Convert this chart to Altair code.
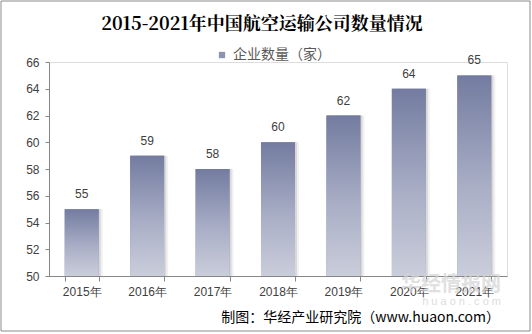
import altair as alt
import pandas as pd

years = ["2015年", "2016年", "2017年", "2018年", "2019年", "2020年", "2021年"]
counts = [55, 59, 58, 60, 62, 64, 65]
series_name = "企业数量（家）"
y_ticks = [50, 52, 54, 56, 58, 60, 62, 64, 66]
title_text = "2015-2021年中国航空运输公司数量情况"
source_text = "制图：华经产业研究院（www.huaon.com）"

df = pd.DataFrame({"year": years, "count": counts, "series": series_name})

x_enc = alt.X("year:N", sort=years, title=None,
              scale=alt.Scale(paddingInner=0.48, paddingOuter=0.24),
              axis=alt.Axis(labelAngle=0, tickBand="extent", labelFontSize=12,
                            labelColor="#404040", labelFont="Liberation Sans",
                            domainColor="#868686", tickColor="#868686", tickSize=5,
                            labelPadding=5))
y_enc = alt.Y("count:Q", title=None,
              scale=alt.Scale(domain=[50, 66], nice=False),
              axis=alt.Axis(values=y_ticks, grid=False, labelFontSize=12,
                            labelColor="#404040", labelFont="Liberation Sans",
                            domainColor="#868686", tickColor="#868686", tickSize=4,
                            labelPadding=6))
y2_enc = alt.Y2(datum=50)

base = alt.Chart(df)

shadow1 = base.mark_bar(color="#999999", opacity=0.28, xOffset=2, y2Offset=0).encode(
    x=x_enc, y=y_enc, y2=y2_enc)
shadow2 = base.mark_bar(color="#999999", opacity=0.14, xOffset=4).encode(
    x=x_enc, y=y_enc, y2=y2_enc)

legend_bar = base.mark_bar().encode(
    x=x_enc, y=y_enc, y2=y2_enc,
    color=alt.Color("series:N", scale=alt.Scale(range=["#8d93b0"]),
                    legend=alt.Legend(title=None, orient="none", legendX=166, legendY=-14,
                                      symbolType="square", symbolSize=40,
                                      labelFontSize=14, labelColor="#595959",
                                      labelFont="Noto Sans CJK SC", symbolStrokeWidth=0)))

grad = alt.Gradient(gradient="linear", x1=0, x2=0, y1=0, y2=1,
                    stops=[alt.GradientStop(color="#737ca0", offset=0),
                           alt.GradientStop(color="#a9aec6", offset=0.55),
                           alt.GradientStop(color="#cacdda", offset=1)])
bars = base.mark_bar(color=grad).encode(x=x_enc, y=y_enc, y2=y2_enc)

labels = base.mark_text(dy=-8, baseline="bottom", fontSize=12, color="#404040",
                        font="Liberation Sans").encode(x=x_enc, y=y_enc, text="count:Q")

title_df = pd.DataFrame({"t": [title_text]})
title = alt.Chart(title_df).mark_text(align="center", baseline="middle", fontSize=18,
                                      fontWeight="bold", color="#000000",
                                      font="Noto Serif CJK SC, Noto Sans CJK SC").encode(
    x=alt.value(213), y=alt.value(-37), text="t:N")

src_df = pd.DataFrame({"t": [source_text]})
source = alt.Chart(src_df).mark_text(align="right", baseline="middle", fontSize=14,
                                     color="#000000", font="Noto Sans CJK SC").encode(
    x=alt.value(451), y=alt.value(256), text="t:N")

wm_df = pd.DataFrame({"t": ["华经情报网"]})
wm = alt.Chart(wm_df).mark_text(align="right", baseline="middle", fontSize=20,
                                fontWeight="bold", color="#d4d4d4", opacity=0.7,
                                font="Noto Sans CJK SC").encode(
    x=alt.value(452), y=alt.value(223), text="t:N")
wm2_df = pd.DataFrame({"t": ["h u a o n . c o m"]})
wm2 = alt.Chart(wm2_df).mark_text(align="right", baseline="middle", fontSize=11,
                                  color="#dddddd", font="Liberation Sans").encode(
    x=alt.value(452), y=alt.value(240), text="t:N")

frame = alt.Chart(src_df).mark_rect(fill=None, stroke="#8c8c8c", strokeWidth=1).encode(
    x=alt.value(-48), x2=alt.value(481), y=alt.value(-61), y2=alt.value(269))

chart = alt.layer(shadow2, shadow1, legend_bar, bars, labels, wm, wm2, source, title, frame).properties(
    width=458, height=214,
    autosize=alt.AutoSizeParams(type="none"),
    padding={"left": 49, "top": 62, "right": 25, "bottom": 58},
).configure_view(stroke=None).configure(background="#ffffff")

chart.save("out.html", embed_options={"renderer": "svg", "actions": False})
